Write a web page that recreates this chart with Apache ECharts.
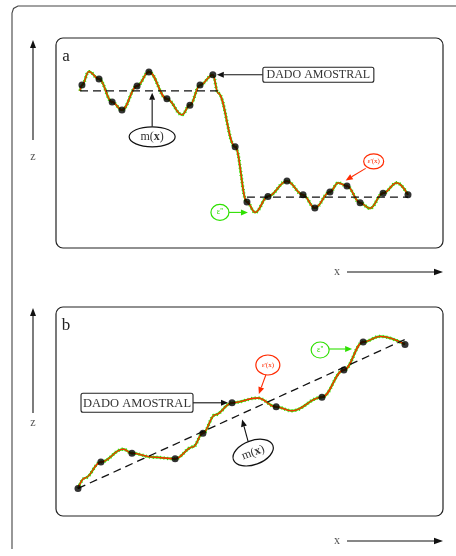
<!DOCTYPE html>
<html>
<head>
<meta charset="utf-8">
<script src="https://cdn.jsdelivr.net/npm/echarts@6/dist/echarts.min.js"></script>
<style>
  html, body { margin: 0; padding: 0; background: #fff; }
  #chart { width: 456px; height: 556px; }
</style>
</head>
<body>
<div id="chart"></div>
<script>
// Panel a: stationary field with an abrupt change of mean level
const aCurveX = [0, 0.6, 2.7, 5.8, 9.8, 12.8, 17.4, 21.0, 26.5, 31.1, 33.5, 36.6, 40.5, 42.1, 47.3, 50.9, 53.4, 57.3, 63.1, 68.0, 71.6, 76.2, 78.7, 81.4, 85.4, 88.4, 92.4, 96.6, 100];
const aCurveZ = [8.2, 8.56, 9.4, 8.94, 7.5, 7.0, 8.5, 9.38, 7.7, 6.7, 7.3, 8.56, 9.2, 8.06, 4.7, 1.25, 0.6, 1.6, 2.56, 1.7, 0.88, 1.88, 2.45, 2.25, 1.2, 0.85, 1.8, 2.45, 1.7];
const aSampleX = [0.6, 5.8, 9.8, 12.8, 17.4, 21.0, 26.5, 33.5, 36.6, 40.5, 47.3, 50.9, 57.3, 63.1, 68.0, 71.6, 76.2, 81.4, 85.4, 92.4, 100];
const aSampleZ = [8.56, 8.94, 7.5, 7.0, 8.5, 9.38, 7.7, 7.3, 8.56, 9.2, 4.7, 1.25, 1.6, 2.56, 1.7, 0.88, 1.88, 2.25, 1.2, 1.8, 1.7];
const aMeanUpperX = [0, 42];
const aMeanUpperZ = [8.2, 8.2];
const aMeanLowerX = [50.9, 100];
const aMeanLowerZ = [1.56, 1.56];

// Panel b: field with a linear trend
const bCurveX = [0, 2.1, 7.0, 13.8, 16.5, 22.9, 29.7, 35.2, 38.2, 41.9, 47.1, 55.0, 60.6, 65.4, 74.6, 81.3, 87.2, 92.4, 100];
const bCurveZ = [0.1, 0.75, 1.75, 2.55, 2.3, 2.05, 1.95, 2.7, 3.55, 4.7, 5.45, 5.75, 5.2, 4.95, 5.8, 7.5, 9.25, 9.6, 9.1];
const bSampleX = [0, 7.0, 16.5, 29.7, 38.2, 47.1, 60.6, 74.6, 81.3, 87.2, 100];
const bSampleZ = [0.1, 1.75, 2.3, 1.95, 3.55, 5.45, 5.2, 5.8, 7.5, 9.25, 9.1];
const bTrendX = [0, 101.5];
const bTrendZ = [0.1, 9.55];

const labelSample = 'DADO AMOSTRAL';
const labelMean = '{n|m(}{b|x}{n|)}';
const labelEps1 = "ε'(x)";
const labelEps2 = "ε''";

const RED = '#ff2a00';
const GREEN = '#2ee000';
const SERIF = '"Liberation Serif", "DejaVu Serif", serif';

const zip = (xs, zs) => xs.map((x, i) => [x, zs[i]]);

function panelSeries(g, curveX, curveZ, sx, sz, meanLines) {
  const out = [];
  // fine-scale noise band (green) under the continuous component (red)
  out.push({
    type: 'line', xAxisIndex: g, yAxisIndex: g, data: zip(curveX, curveZ),
    smooth: 0.4, smoothMonotone: 'x', symbol: 'none', silent: true, clip: false,
    lineStyle: { color: GREEN, width: 3.4, type: [1, 2.6] }, z: 2
  });
  out.push({
    type: 'line', xAxisIndex: g, yAxisIndex: g, data: zip(curveX, curveZ),
    smooth: 0.4, smoothMonotone: 'x', symbol: 'none', silent: true, clip: false,
    lineStyle: { color: GREEN, width: 2.2 }, z: 3
  });
  out.push({
    type: 'line', xAxisIndex: g, yAxisIndex: g, data: zip(curveX, curveZ),
    smooth: 0.4, smoothMonotone: 'x', symbol: 'none', silent: true, clip: false,
    lineStyle: { color: RED, width: 1.3 }, z: 4
  });
  meanLines.forEach(([mx, mz]) => {
    out.push({
      type: 'line', xAxisIndex: g, yAxisIndex: g, data: zip(mx, mz),
      symbol: 'none', silent: true, clip: false,
      lineStyle: { color: '#111', width: 1.3, type: [8, 5] }, z: 5
    });
  });
  out.push({
    type: 'scatter', xAxisIndex: g, yAxisIndex: g, data: zip(sx, sz),
    symbol: 'circle', symbolSize: 7, itemStyle: { color: '#000' }, silent: true, z: 6
  });
  return out;
}

const chart = echarts.init(document.getElementById('chart'), null, { renderer: 'canvas' });

const hiddenAxis = (min, max, grid) => ({
  type: 'value', gridIndex: grid, min, max, show: false
});

chart.setOption({
  animation: false,
  backgroundColor: '#fff',
  grid: [
    { left: 80, top: 62, width: 328, height: 160 },
    { left: 78, top: 330, width: 327, height: 160 }
  ],
  xAxis: [hiddenAxis(0, 100, 0), hiddenAxis(0, 100, 1)],
  yAxis: [hiddenAxis(0, 10, 0), hiddenAxis(0, 10, 1)],
  series: [
    ...panelSeries(0, aCurveX, aCurveZ, aSampleX, aSampleZ,
      [[aMeanUpperX, aMeanUpperZ], [aMeanLowerX, aMeanLowerZ]]),
    ...panelSeries(1, bCurveX, bCurveZ, bSampleX, bSampleZ,
      [[bTrendX, bTrendZ]])
  ]
});

function arrow(x1, y1, x2, y2, color, len, w, lw) {
  len = len || 7; w = w || 3; lw = lw || 1.1;
  const dx = x2 - x1, dy = y2 - y1, L = Math.hypot(dx, dy);
  const ux = dx / L, uy = dy / L;
  const bx = x2 - ux * len, by = y2 - uy * len;
  return [
    { type: 'line', shape: { x1, y1, x2: bx, y2: by }, style: { stroke: color, lineWidth: lw }, z: 10 },
    { type: 'polygon', shape: { points: [[x2, y2], [bx - uy * w, by + ux * w], [bx + uy * w, by - ux * w]] },
      style: { fill: color }, z: 10 }
  ];
}

function textBox(x, y, w, h, text, size) {
  return [
    { type: 'rect', shape: { x, y, width: w, height: h, r: 2 },
      style: { fill: '#fff', stroke: '#222', lineWidth: 1.1 }, z: 10 },
    { type: 'text', x: x + w / 2, y: y + h / 2 + 0.5,
      style: { text, font: size + 'px ' + SERIF, fill: '#333', align: 'center', verticalAlign: 'middle' }, z: 11 }
  ];
}

function bubble(cx, cy, rx, ry, color, text, size, rotation, rich) {
  const txt = { text, font: size + 'px ' + SERIF, fill: color === '#111' ? '#333' : color,
    align: 'center', verticalAlign: 'middle' };
  if (rich) txt.rich = rich;
  return {
    type: 'group', x: cx, y: cy, rotation: rotation || 0, z: 10,
    children: [
      { type: 'ellipse', shape: { cx: 0, cy: 0, rx, ry },
        style: { fill: '#fff', stroke: color, lineWidth: 1.2 }, z: 10 },
      { type: 'text', x: 0, y: 0, style: txt, z: 11 }
    ]
  };
}

const px = (g, x, z) => chart.convertToPixel({ gridIndex: g }, [x, z]);

const richMean = {
  n: { font: '12px ' + SERIF, fill: '#333' },
  b: { font: 'bold 12px ' + SERIF, fill: '#333' }
};

const els = [];

// frame and panel boxes
els.push({ type: 'polyline', shape: { points: [[12, 549], [12, 13], [13.5, 8.5], [18, 6], [460, 6]] },
  style: { stroke: '#444', lineWidth: 1.1, fill: null } });
els.push({ type: 'rect', shape: { x: 56, y: 38, width: 387, height: 210, r: 7 },
  style: { fill: null, stroke: '#222', lineWidth: 1.2 } });
els.push({ type: 'rect', shape: { x: 56, y: 307, width: 387, height: 209, r: 7 },
  style: { fill: null, stroke: '#222', lineWidth: 1.2 } });

// axis arrows and names
[[40, 140, 157, 272], [308, 413, 423, 541]].forEach(([top, bottom, zy, xy]) => {
  els.push(...arrow(33, bottom, 33, top, '#111', 8, 3, 1.1));
  els.push({ type: 'text', x: 33, y: zy,
    style: { text: 'z', font: '12px ' + SERIF, fill: '#555', align: 'center', verticalAlign: 'middle' } });
  els.push(...arrow(347, xy, 443, xy, '#111', 9, 3.2, 1.1));
  els.push({ type: 'text', x: 337, y: xy,
    style: { text: 'x', font: '12px ' + SERIF, fill: '#555', align: 'center', verticalAlign: 'middle' } });
});
els.push({ type: 'text', x: 66, y: 57,
  style: { text: 'a', font: '17px ' + SERIF, fill: '#222', align: 'center', verticalAlign: 'middle' } });
els.push({ type: 'text', x: 66, y: 326,
  style: { text: 'b', font: '17px ' + SERIF, fill: '#222', align: 'center', verticalAlign: 'middle' } });

// panel a annotations
let t = px(0, aSampleX[9], aSampleZ[9]);
els.push(...arrow(t[0] + 50, t[1], t[0] + 4, t[1], '#111'));
els.push(...textBox(t[0] + 50, t[1] - 7.5, 111, 15, labelSample, 12));

t = px(0, 22, aMeanUpperZ[0]);
els.push(...arrow(t[0], t[1] + 36, t[0], t[1] + 2, '#111'));
els.push(bubble(t[0], t[1] + 46, 23, 10, '#111', labelMean, 12, 0, richMean));

t = px(0, 81.0, 2.6);
els.push(...arrow(t[0] + 20, t[1] - 12, t[0], t[1], RED));
els.push(bubble(t[0] + 28, t[1] - 19, 10, 7.5, RED, labelEps1, 7));

t = px(0, 51.2, 0.6);
els.push(...arrow(t[0] - 19, t[1], t[0], t[1], GREEN));
els.push(bubble(t[0] - 28, t[1], 9, 8, GREEN, labelEps2, 8));

// panel b annotations
t = px(1, bSampleX[5], bSampleZ[5]);
els.push(...arrow(t[0] - 39, t[1], t[0] - 4, t[1], '#111'));
els.push(...textBox(t[0] - 151, t[1] - 9.5, 112, 19, labelSample, 12.5));

t = px(1, 50.2, bTrendZ[0] + (bTrendZ[1] - bTrendZ[0]) * 50.2 / bTrendX[1]);
els.push(...arrow(t[0] + 6, t[1] + 28, t[0], t[1] + 6, '#111'));
els.push(bubble(t[0] + 11, t[1] + 39, 21, 12, '#111', labelMean, 12, 0.35, richMean));

t = px(1, 55.0, 5.75);
els.push(...arrow(t[0] + 8, t[1] - 23, t[0] + 1, t[1] - 4, RED));
els.push(bubble(t[0] + 10, t[1] - 33, 12, 10, RED, labelEps1, 7));

t = px(1, bSampleX[9], bSampleZ[9]);
els.push(...arrow(t[0] - 34, t[1] + 7, t[0] - 11, t[1] + 7, GREEN));
els.push(bubble(t[0] - 43, t[1] + 8, 9, 8, GREEN, labelEps2, 8));

chart.setOption({ graphic: { elements: els } });
</script>
</body>
</html>
